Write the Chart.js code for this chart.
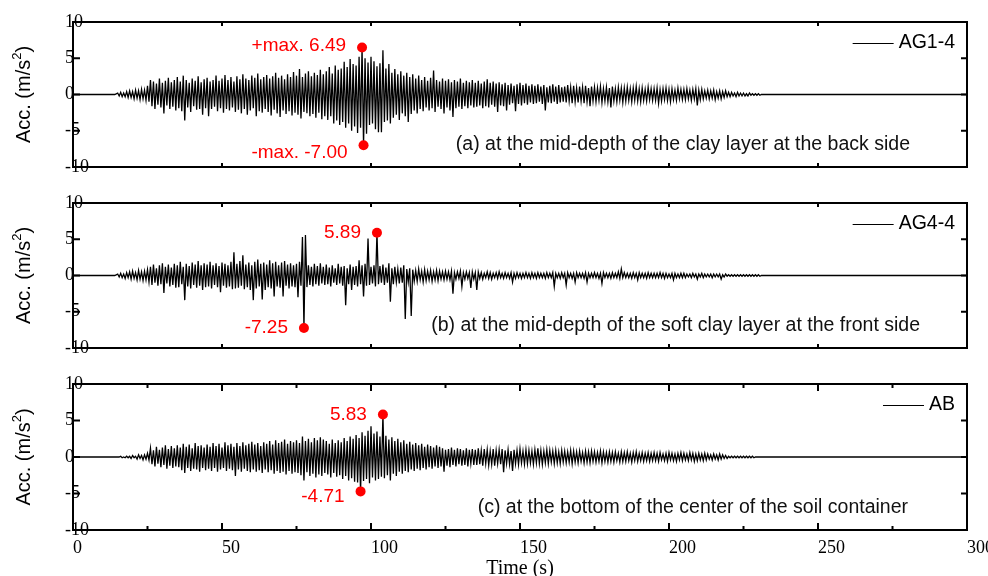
<!DOCTYPE html>
<html>
<head>
<meta charset="utf-8">
<script src="https://cdn.jsdelivr.net/npm/chart.js@4.4.0/dist/chart.umd.min.js"></script>
<style>
  body { margin: 0; background: #fff; }
  #wrap { position: relative; width: 988px; height: 576px; overflow: hidden; }
  canvas { position: absolute; left: 0; }
</style>
</head>
<body>
<div id="wrap">
  <canvas id="pa" width="988" height="182" style="top:0px"></canvas>
  <canvas id="pb" width="988" height="180" style="top:182px"></canvas>
  <canvas id="pc" width="988" height="214" style="top:362px"></canvas>
</div>
<script>
// Acceleration records, read off the figure as per-second peaks
// (upper = positive peak at t, lower = negative peak at t + 0.5 s), t = 15 ... 230 s
var T0 = 15;

var ag14Up = [
  0.2,0.3,0.2,0.4,0.5,0.4,0.6,0.5,0.7,0.6,
  1.2,2.0,1.8,1.5,2.2,1.6,1.9,2.3,1.7,2.0,
  2.4,1.8,2.6,2.0,1.6,2.2,1.9,2.5,1.7,2.1,
  2.3,1.8,2.0,2.6,1.9,2.2,2.7,2.0,2.4,1.8,
  2.5,2.1,2.8,2.2,2.0,2.6,2.3,2.9,2.1,2.4,
  2.7,2.2,2.5,3.0,2.3,2.6,2.1,2.8,2.4,3.1,
  2.6,3.5,2.4,2.9,3.2,2.5,3.0,2.7,3.4,2.8,
  3.2,3.8,2.9,4.0,3.4,3.6,4.5,3.8,4.9,4.2,
  4.0,5.2,6.49,5.0,4.4,5.2,4.6,3.9,4.3,6.1,
  3.6,4.2,3.0,3.5,2.8,3.2,2.6,3.0,2.4,2.8,
  2.2,2.6,2.0,2.4,1.9,2.3,3.3,2.0,1.8,2.2,
  1.9,2.1,1.7,2.0,1.8,2.2,1.6,1.9,1.7,2.0,
  1.6,1.9,1.5,1.8,2.1,1.6,1.8,1.5,1.7,1.4,
  1.6,1.3,1.5,1.2,1.4,1.6,1.3,1.5,1.2,1.4,
  1.2,1.4,1.1,1.3,1.0,1.2,1.4,1.1,1.3,1.0,
  1.1,1.3,1.0,1.2,0.9,1.1,1.0,1.2,0.9,1.1,
  1.0,0.9,1.1,0.8,1.0,0.9,1.1,0.8,1.0,0.9,
  0.9,1.0,0.8,0.9,1.1,0.8,0.9,0.7,1.0,0.8,
  0.8,0.9,0.7,0.8,0.9,0.7,0.8,0.6,0.9,0.7,
  0.7,0.8,0.6,0.7,0.8,0.6,0.7,0.5,0.6,0.5,
  0.6,0.4,0.5,0.4,0.5,0.3,0.3,0.2,0.3,0.2,
  0.2,0.1,0.2,0.1,0.1,0.1
];
var ag14Lo = [
  -0.2,-0.3,-0.3,-0.4,-0.4,-0.6,-0.5,-0.7,-0.6,-0.8,
  -1.0,-1.6,-2.0,-1.4,-1.8,-2.6,-1.5,-2.0,-1.7,-2.2,
  -1.9,-2.3,-3.6,-1.8,-2.4,-1.6,-2.1,-2.0,-2.8,-1.9,
  -3.0,-2.0,-1.7,-2.3,-1.9,-2.5,-2.0,-2.2,-1.8,-2.4,
  -2.1,-2.6,-2.0,-2.8,-2.2,-1.9,-3.0,-2.3,-2.5,-2.0,
  -2.4,-2.9,-2.1,-2.6,-3.1,-2.2,-2.7,-2.3,-2.9,-2.5,
  -2.8,-3.3,-2.4,-2.6,-3.0,-2.7,-3.2,-2.5,-3.4,-3.0,
  -3.5,-3.0,-4.0,-3.6,-4.2,-3.8,-4.6,-4.0,-5.0,-4.4,
  -5.3,-4.6,-7.0,-5.4,-4.2,-4.0,-4.8,-5.2,-5.2,-3.8,
  -3.6,-4.0,-3.2,-2.8,-3.5,-2.6,-3.0,-3.8,-2.7,-2.2,
  -2.6,-2.0,-2.3,-1.8,-2.2,-1.9,-2.4,-1.7,-2.0,-2.6,
  -1.8,-2.2,-3.1,-1.9,-1.7,-2.0,-1.6,-1.9,-1.5,-1.8,
  -1.7,-1.5,-1.9,-1.6,-1.8,-1.4,-1.7,-2.4,-1.5,-1.6,
  -2.2,-1.4,-1.2,-2.3,-1.3,-1.5,-1.2,-1.4,-1.1,-1.3,
  -1.2,-1.0,-1.3,-2.2,-1.1,-1.2,-1.0,-1.3,-1.1,-1.0,
  -1.1,-0.9,-1.2,-1.0,-1.1,-0.9,-1.2,-1.0,-1.6,-0.9,
  -1.0,-0.8,-1.1,-0.9,-1.0,-1.8,-0.9,-1.0,-0.8,-1.1,
  -0.9,-0.8,-1.0,-0.8,-0.9,-1.0,-0.8,-0.9,-0.7,-0.8,
  -0.8,-1.2,-0.9,-0.7,-0.8,-1.0,-0.7,-0.8,-0.6,-0.7,
  -0.7,-0.6,-0.8,-0.6,-1.5,-0.7,-0.6,-0.5,-0.6,-0.5,
  -0.7,-0.5,-0.6,-0.4,-0.3,-0.3,-0.2,-0.3,-0.2,-0.2,
  -0.2,-0.2,-0.1,-0.1,-0.1,-0.1
];

var ag44Up = [
  0.2,0.3,0.2,0.4,0.5,0.6,0.4,0.7,0.5,0.6,
  0.8,1.2,1.5,1.0,1.4,1.7,1.2,1.5,1.1,1.6,
  1.4,1.9,1.2,1.6,1.3,1.8,1.5,2.0,1.4,1.7,
  1.5,1.9,1.4,1.7,1.3,1.8,1.6,1.4,1.9,3.2,
  1.6,2.0,2.8,1.5,1.8,1.4,1.9,2.2,1.6,1.8,
  1.5,2.1,1.7,1.9,1.4,1.8,2.0,1.5,1.7,1.4,
  1.6,1.9,5.3,5.6,1.4,1.2,1.6,1.3,1.7,1.2,
  1.5,1.1,1.4,1.0,1.6,1.2,1.3,1.0,1.5,1.2,
  1.3,2.1,1.4,1.6,5.1,1.2,1.4,5.89,1.3,1.5,
  1.1,1.7,1.0,1.2,0.9,1.1,1.4,0.9,1.0,0.8,
  0.7,0.9,0.6,0.8,0.6,0.7,0.5,0.7,0.6,0.5,
  0.6,0.5,0.6,0.4,0.5,0.6,0.4,0.5,0.4,0.5,
  0.4,0.5,0.4,0.3,0.5,0.4,0.3,0.4,0.5,0.3,
  0.4,0.3,0.4,0.3,0.4,0.3,0.3,0.4,0.3,0.4,
  0.3,0.4,0.3,0.3,0.4,0.3,0.4,0.3,0.3,0.4,
  0.3,0.4,0.3,0.3,0.4,0.3,0.3,0.4,0.3,0.3,
  0.4,0.3,0.3,0.4,0.3,0.3,0.4,0.3,0.5,0.9,
  0.4,0.3,0.3,0.4,0.3,0.4,0.3,0.3,0.4,0.3,
  0.3,0.3,0.4,0.3,0.3,0.2,0.3,0.3,0.2,0.3,
  0.3,0.2,0.2,0.3,0.2,0.2,0.3,0.2,0.2,0.2,
  0.2,0.2,0.2,0.1,0.2,0.1,0.1,0.1,0.1,0.1,
  0.1,0.1,0.1,0.1,0.1,0.1
];
var ag44Lo = [
  -0.2,-0.3,-0.4,-0.3,-0.5,-0.4,-0.6,-0.5,-0.7,-0.6,
  -0.9,-1.3,-1.0,-1.4,-1.2,-2.4,-1.1,-1.5,-1.3,-1.7,
  -1.6,-1.2,-3.4,-1.5,-1.8,-1.3,-1.7,-1.4,-2.0,-1.6,
  -1.5,-1.8,-1.3,-1.6,-2.3,-1.4,-1.7,-1.5,-1.9,-1.8,
  -1.7,-1.4,-1.9,-1.6,-2.0,-3.4,-1.8,-1.5,-3.3,-2.0,
  -1.6,-1.8,-2.9,-1.5,-1.7,-2.9,-1.4,-1.8,-1.5,-1.6,
  -3.0,-1.4,-7.25,-1.6,-1.3,-1.5,-1.2,-1.4,-1.1,-1.3,
  -1.2,-1.5,-1.0,-1.3,-1.1,-1.4,-4.1,-1.2,-2.0,-1.3,
  -1.5,-1.2,-2.9,-1.4,-1.3,-1.1,-1.5,-1.2,-1.0,-1.3,
  -1.0,-3.6,-1.2,-0.9,-1.1,-1.0,-6.0,-0.9,-5.6,-0.8,
  -0.8,-0.6,-0.9,-0.7,-0.6,-0.8,-0.6,-0.7,-0.5,-0.6,
  -0.5,-0.6,-2.5,-0.5,-0.4,-1.5,-0.5,-0.4,-1.7,-0.5,
  -2.0,-0.4,-0.5,-0.3,-0.4,-0.5,-0.3,-0.4,-0.3,-0.4,
  -0.3,-0.4,-0.9,-0.4,-0.3,-0.4,-0.3,-0.3,-0.4,-0.3,
  -0.4,-0.3,-0.3,-0.4,-0.3,-0.3,-1.5,-0.3,-0.4,-0.3,
  -1.3,-0.3,-0.4,-0.9,-0.3,-0.3,-0.4,-0.9,-0.3,-0.3,
  -0.3,-0.4,-1.1,-0.3,-0.3,-0.4,-0.3,-0.3,-0.4,-0.3,
  -0.3,-0.3,-0.4,-0.3,-0.6,-0.3,-0.3,-0.4,-0.3,-0.3,
  -0.3,-0.3,-0.3,-0.4,-0.3,-0.3,-0.6,-0.3,-0.3,-0.3,
  -0.3,-0.2,-0.3,-0.2,-0.5,-0.2,-0.3,-0.2,-0.2,-0.3,
  -0.2,-0.2,-0.5,-0.2,-0.1,-0.1,-0.1,-0.1,-0.1,-0.1,
  -0.1,-0.1,-0.1,-0.1,-0.1,-0.1
];

var abUp = [
  0.0,0.1,0.0,0.1,0.1,0.2,0.1,0.3,0.2,0.3,
  0.5,1.2,0.9,1.4,1.0,1.3,1.6,1.1,1.5,1.2,
  1.6,1.3,1.8,1.4,1.7,1.2,1.9,1.5,1.6,1.3,
  1.7,1.4,1.9,1.5,1.8,1.3,2.0,1.6,1.8,1.4,
  1.9,1.5,2.0,1.6,1.8,2.1,1.7,1.9,1.5,2.0,
  1.8,2.2,1.7,2.3,1.9,2.1,2.4,1.8,2.2,2.0,
  2.3,1.9,2.8,2.2,2.5,2.0,2.6,2.3,2.7,2.4,
  2.2,1.8,2.4,1.9,2.3,2.0,2.6,2.2,2.8,2.5,
  3.0,2.6,3.4,2.9,3.6,4.2,3.2,3.5,2.8,5.83,
  2.9,2.4,2.7,2.2,2.5,2.0,2.3,1.8,2.1,1.7,
  1.9,1.6,1.8,1.4,1.7,1.5,1.3,1.6,1.4,1.2,
  1.0,1.1,1.3,1.0,1.2,1.1,0.9,1.2,1.0,1.1,
  1.0,1.2,0.9,1.1,1.0,0.8,1.1,0.9,1.0,1.1,
  0.9,1.0,0.8,1.0,0.9,1.1,0.8,1.0,0.9,0.8,
  1.0,1.2,0.9,0.8,1.0,0.9,0.8,0.9,0.7,0.9,
  0.8,0.7,0.9,0.8,0.7,0.8,0.6,0.8,0.7,0.8,
  0.7,0.6,0.8,0.7,0.6,0.7,0.6,0.7,0.5,0.7,
  0.6,0.7,0.5,0.6,0.7,0.5,0.6,0.5,0.6,0.5,
  0.6,0.5,0.6,0.4,0.5,0.6,0.5,0.4,0.5,0.6,
  0.5,0.4,0.6,0.5,0.4,0.5,0.4,0.5,0.4,0.3,
  0.4,0.3,0.4,0.3,0.2,0.1,0.1,0.1,0.1,0.1,
  0.1,0.1,0.1,0.1,0.0,0.0
];
var abLo = [
  0.0,-0.1,-0.1,-0.1,-0.2,-0.1,-0.3,-0.2,-0.4,-0.3,
  -0.4,-1.0,-1.3,-0.9,-1.4,-1.1,-1.6,-1.2,-1.5,-1.3,
  -1.4,-1.8,-2.2,-1.5,-1.9,-1.6,-1.7,-2.0,-1.5,-1.8,
  -1.6,-1.9,-1.5,-2.0,-1.7,-1.5,-1.9,-1.6,-1.8,-2.6,
  -1.7,-2.0,-1.6,-1.9,-2.1,-1.7,-2.0,-1.8,-2.2,-1.7,
  -2.1,-1.8,-2.3,-1.9,-2.2,-2.0,-2.4,-1.9,-2.3,-2.1,
  -2.2,-2.5,-3.2,-2.1,-2.6,-2.3,-2.8,-2.4,-2.6,-2.2,
  -2.4,-2.8,-2.2,-2.7,-2.5,-3.0,-2.6,-3.2,-2.9,-3.4,
  -3.5,-4.71,-3.3,-3.0,-3.6,-2.8,-3.2,-3.0,-2.7,-2.9,
  -2.5,-3.2,-2.3,-2.6,-2.0,-2.3,-1.9,-2.1,-1.7,-1.9,
  -1.6,-1.8,-1.5,-1.7,-1.4,-1.6,-1.3,-1.5,-1.3,-2.0,
  -1.2,-1.4,-1.1,-1.3,-1.0,-1.2,-1.1,-1.3,-0.9,-1.1,
  -1.1,-1.0,-1.2,-0.9,-1.1,-1.0,-1.2,-0.9,-1.0,-2.1,
  -0.9,-1.0,-1.9,-0.9,-1.0,-0.8,-1.0,-0.9,-0.8,-1.0,
  -0.8,-0.9,-1.0,-0.8,-0.9,-0.7,-0.9,-0.8,-0.9,-0.7,
  -0.8,-0.7,-0.9,-0.7,-0.8,-0.6,-0.8,-0.7,-0.8,-0.6,
  -0.7,-0.6,-0.8,-0.6,-0.7,-0.6,-0.7,-0.5,-0.7,-0.6,
  -0.6,-0.5,-0.7,-0.5,-0.6,-0.5,-0.6,-0.5,-0.6,-0.5,
  -0.5,-0.6,-0.4,-0.5,-0.6,-0.4,-0.5,-0.6,-0.4,-0.5,
  -0.4,-0.5,-0.4,-0.6,-0.5,-0.4,-0.5,-0.4,-0.3,-0.4,
  -0.3,-0.4,-0.3,-0.2,-0.2,-0.1,-0.1,-0.1,-0.1,-0.1,
  -0.1,-0.1,-0.1,-0.1,0.0,0.0
];

// marked peaks
var ag14PeakT = [97, 97.5];
var ag14PeakV = [6.49, -7.00];
var ag14PeakText = ['+max. 6.49', '-max. -7.00'];
var ag44PeakT = [102, 77.5];
var ag44PeakV = [5.89, -7.25];
var ag44PeakText = ['5.89', '-7.25'];
var abPeakT = [104, 96.5];
var abPeakV = [5.83, -4.71];
var abPeakText = ['5.83', '-4.71'];

// axes
var xMajor = [0, 50, 100, 150, 200, 250, 300];
var xMinor = [25, 75, 125, 175, 225, 275];
var xTickText = ['0', '50', '100', '150', '200', '250', '300'];
var yTicks = [10, 5, 0, -5, -10];
var yTickText = ['10', '5', '0', '-5', '-10'];

var SANS = '"Liberation Sans", Arial, sans-serif';
var SERIF = '"Liberation Serif", "Times New Roman", serif';

function trace(up, lo) {
  var pts = [{ x: 0, y: 0 }, { x: T0 - 1, y: 0 }];
  for (var i = 0; i < up.length; i++) {
    pts.push({ x: T0 + i, y: up[i] });
    pts.push({ x: T0 + i + 0.5, y: lo[i] });
  }
  pts.push({ x: T0 + up.length, y: 0 });
  pts.push({ x: 300, y: 0 });
  return pts;
}

function peaks(ts, vs) {
  return ts.map(function (t, i) { return { x: t, y: vs[i] }; });
}

var decor = {
  id: 'decor',
  afterDraw: function (chart) {
    var o = chart.options.plugins.decor;
    var ctx = chart.ctx, a = chart.chartArea;
    var xs = chart.scales.x, ys = chart.scales.y;
    ctx.save();

    // frame
    ctx.strokeStyle = '#000';
    ctx.lineWidth = 2;
    ctx.strokeRect(a.left, a.top, a.right - a.left, a.bottom - a.top);

    // ticks (inward)
    ctx.beginPath();
    xMajor.forEach(function (v) {
      var px = xs.getPixelForValue(v);
      ctx.moveTo(px, a.top); ctx.lineTo(px, a.top + o.majorLen);
      ctx.moveTo(px, a.bottom); ctx.lineTo(px, a.bottom - o.majorLen);
    });
    if (o.minor) {
      xMinor.forEach(function (v) {
        var px = xs.getPixelForValue(v);
        ctx.moveTo(px, a.top); ctx.lineTo(px, a.top + 4);
        ctx.moveTo(px, a.bottom); ctx.lineTo(px, a.bottom - 4);
      });
    }
    yTicks.forEach(function (v) {
      var py = ys.getPixelForValue(v);
      ctx.moveTo(a.left, py); ctx.lineTo(a.left + 7, py);
      ctx.moveTo(a.right, py); ctx.lineTo(a.right - 6, py);
    });
    ctx.stroke();

    // y tick labels
    ctx.fillStyle = '#000';
    ctx.font = '18px ' + SERIF;
    ctx.textAlign = 'left';
    ctx.textBaseline = 'middle';
    yTicks.forEach(function (v, i) {
      ctx.fillText(yTickText[i], a.left - 8, ys.getPixelForValue(v));
    });

    // x tick labels
    if (o.xLabels) {
      ctx.textBaseline = 'alphabetic';
      xMajor.forEach(function (v, i) {
        ctx.fillText(xTickText[i], xs.getPixelForValue(v), a.bottom + 23);
      });
      ctx.font = '20px ' + SERIF;
      ctx.textAlign = 'center';
      ctx.fillText('Time (s)', (a.left + a.right) / 2, a.bottom + 44);
    }

    // y title
    ctx.save();
    ctx.translate(23, (a.top + a.bottom) / 2);
    ctx.rotate(-Math.PI / 2);
    ctx.font = '20px ' + SANS;
    ctx.textBaseline = 'middle';
    var w1 = ctx.measureText('Acc. (m/s').width;
    var w3 = ctx.measureText(')').width;
    ctx.font = '13px ' + SANS;
    var w2 = ctx.measureText('2').width;
    var x0 = -(w1 + w2 + w3) / 2;
    ctx.textAlign = 'left';
    ctx.font = '20px ' + SANS;
    ctx.fillText('Acc. (m/s', x0, 1);
    ctx.font = '13px ' + SANS;
    ctx.fillText('2', x0 + w1, -6);
    ctx.font = '20px ' + SANS;
    ctx.fillText(')', x0 + w1 + w2, 1);
    ctx.restore();

    // legend
    ctx.font = '19.5px ' + SANS;
    ctx.textAlign = 'right';
    ctx.textBaseline = 'middle';
    var ly = a.top + 21;
    ctx.fillText(o.name, 955, ly);
    var lw = ctx.measureText(o.name).width;
    ctx.lineWidth = 1;
    ctx.beginPath();
    ctx.moveTo(955 - lw - 46, ly + 0.5);
    ctx.lineTo(955 - lw - 5, ly + 0.5);
    ctx.stroke();

    // panel note
    ctx.fillStyle = '#111';
    ctx.fillText(o.note, o.noteRight, a.bottom - 22);

    // peak labels
    ctx.font = '19px ' + SANS;
    ctx.fillStyle = '#ff0000';
    o.peakT.forEach(function (t, i) {
      ctx.fillText(o.peakText[i], xs.getPixelForValue(t) - 16, ys.getPixelForValue(o.peakV[i]) + o.peakDy[i]);
    });

    ctx.restore();
  }
};

function makePanel(id, up, lo, pt, pv, ptext, opts) {
  new Chart(document.getElementById(id), {
    data: {
      datasets: [
        {
          type: 'scatter',
          data: peaks(pt, pv),
          pointRadius: 5,
          pointBackgroundColor: '#ff0000',
          pointBorderWidth: 0,
          order: 0,
          clip: false
        },
        {
          type: 'line',
          data: trace(up, lo),
          borderColor: '#000',
          borderWidth: 1.3,
          pointRadius: 0,
          tension: 0,
          order: 1
        }
      ]
    },
    options: {
      responsive: false,
      animation: false,
      events: [],
      layout: { padding: opts.pad },
      scales: {
        x: { type: 'linear', min: 0, max: 300, display: false },
        y: { type: 'linear', min: -10, max: 10, display: false }
      },
      plugins: {
        legend: { display: false },
        tooltip: { enabled: false },
        decor: {
          name: opts.name,
          note: opts.note,
          noteRight: opts.noteRight,
          majorLen: opts.majorLen,
          minor: opts.minor,
          xLabels: opts.xLabels,
          peakT: pt,
          peakV: pv,
          peakText: ptext,
          peakDy: opts.peakDy
        }
      }
    },
    plugins: [decor]
  });
}

makePanel('pa', ag14Up, ag14Lo, ag14PeakT, ag14PeakV, ag14PeakText, {
  pad: { left: 73, right: 21, top: 22, bottom: 15 },
  name: 'AG1-4',
  note: '(a) at the mid-depth of the clay layer at the back side',
  noteRight: 910, majorLen: 4, minor: false, xLabels: false,
  peakDy: [-2, 8]
});
makePanel('pb', ag44Up, ag44Lo, ag44PeakT, ag44PeakV, ag44PeakText, {
  pad: { left: 73, right: 21, top: 21, bottom: 14 },
  name: 'AG4-4',
  note: '(b) at the mid-depth of the soft clay layer at the front side',
  noteRight: 920, majorLen: 4, minor: false, xLabels: false,
  peakDy: [0, 0]
});
makePanel('pc', abUp, abLo, abPeakT, abPeakV, abPeakText, {
  pad: { left: 73, right: 21, top: 22, bottom: 46 },
  name: 'AB',
  note: '(c) at the bottom of the center of the soil container',
  noteRight: 908, majorLen: 7, minor: true, xLabels: true,
  peakDy: [0, 5]
});
</script>
</body>
</html>
